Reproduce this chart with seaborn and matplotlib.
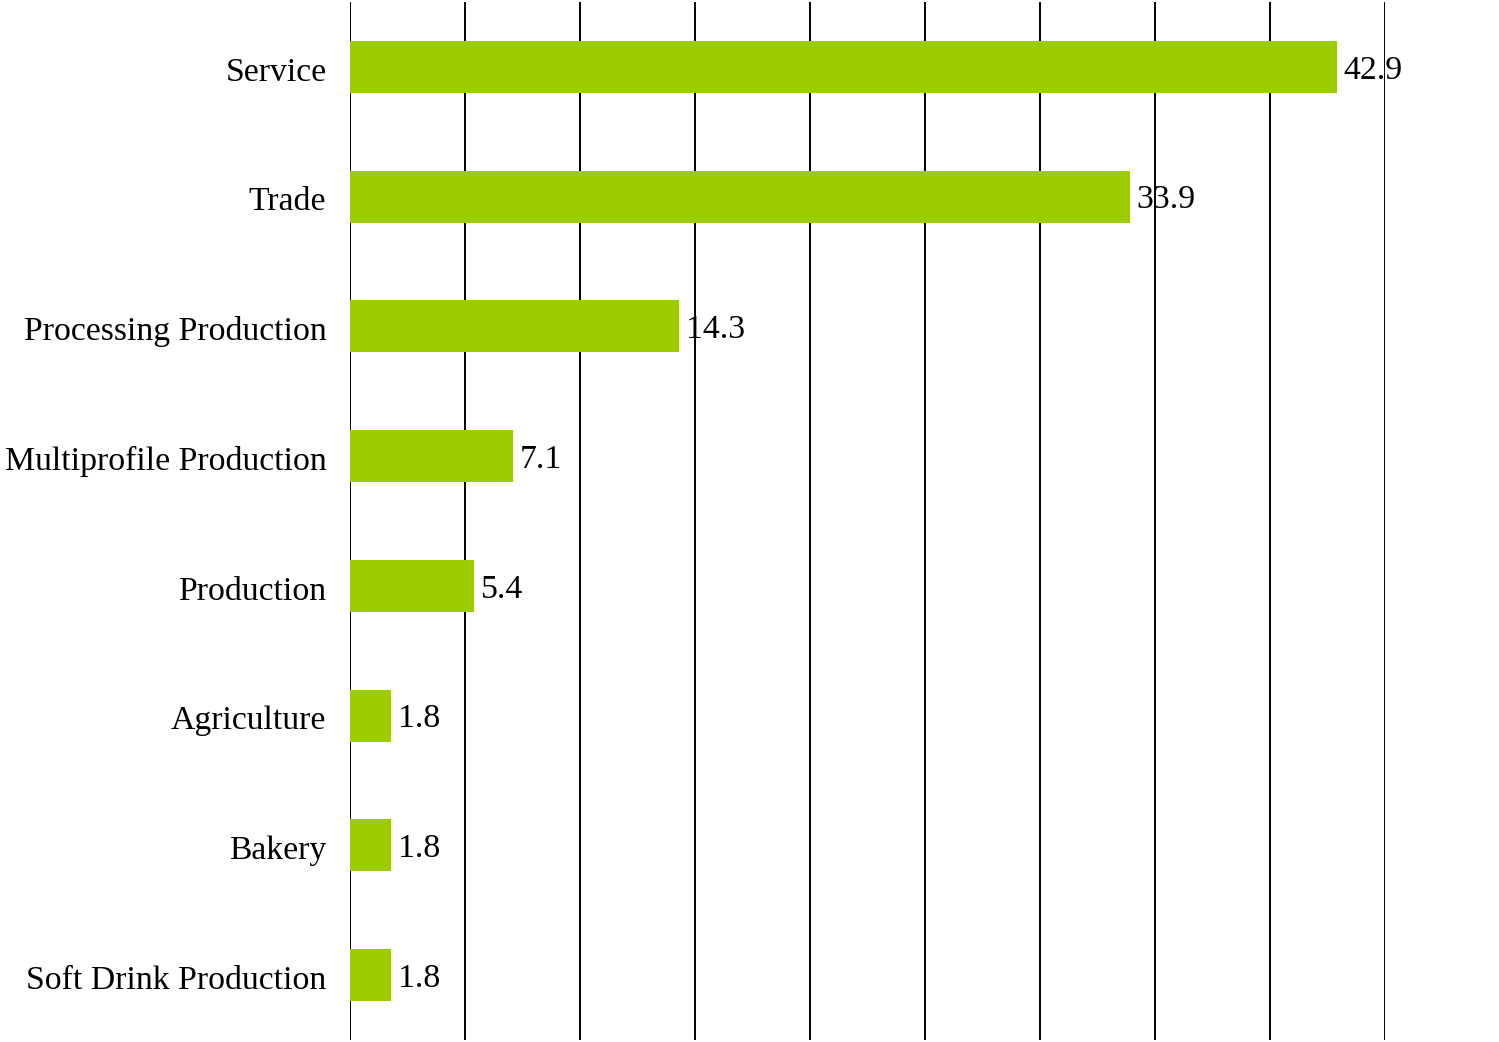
import matplotlib
matplotlib.use("Agg")
import matplotlib.pyplot as plt
import matplotlib.transforms as mtransforms
import seaborn as sns
import pandas as pd

# Share of companies by business sector (%)
sectors = ["Service", "Trade", "Processing Production", "Multiprofile Production",
           "Production", "Agriculture", "Bakery", "Soft Drink Production"]
shares = [42.9, 33.9, 14.3, 7.1, 5.4, 1.8, 1.8, 1.8]
grid_ticks = [0, 5, 10, 15, 20, 25, 30, 35, 40, 45]

df = pd.DataFrame({"sector": sectors, "share": shares})

sns.set_theme(style="white")
plt.rcParams["font.family"] = ["Liberation Serif", "DejaVu Serif"]
plt.rcParams["text.color"] = "black"
plt.rcParams["ytick.color"] = "black"

fig = plt.figure(figsize=(14.99, 10.42), dpi=100)
ax = fig.add_axes([350 / 1499, 1 - 1040 / 1042, (1385 - 350) / 1499, 1038 / 1042])

sns.barplot(data=df, x="share", y="sector", orient="h", color="#9BCC00",
            saturation=1, width=0.4, linewidth=0, ax=ax, zorder=3)

ax.set_xlim(0, 45)
ax.set_xticks(grid_ticks)
ax.set_xticklabels([])
ax.set_xlabel("")
ax.set_ylabel("")
ax.grid(axis="x", color="black", linewidth=1.4)
ax.grid(axis="y", visible=False)
ax.set_axisbelow(True)
for s in ax.spines.values():
    s.set_visible(False)
ax.tick_params(axis="both", length=0)
ax.tick_params(axis="y", labelsize=24.3, pad=17, labelcolor="black")

# nudge all texts slightly downward
shift = mtransforms.ScaledTranslation(0, -2 / 100, fig.dpi_scale_trans)
for lbl in ax.get_yticklabels():
    lbl.set_transform(lbl.get_transform() + shift)

labels = ax.bar_label(ax.containers[0], fmt="%.1f", padding=5, fontsize=24.3,
                      color="black", zorder=4)
for t in labels:
    t.set_va("center_baseline")
    t.set_transform(t.get_transform() + shift)

fig.savefig("out.png", dpi=100)
